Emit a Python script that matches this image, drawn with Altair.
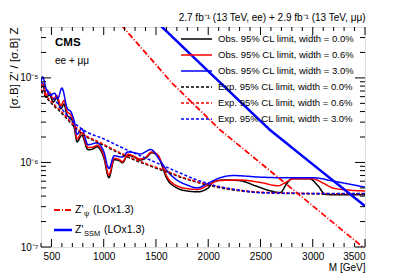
import altair as alt
import pandas as pd

FONT = "Liberation Sans"

# ---------------- data ----------------
series_names = [
    "Obs. 95% CL limit, width = 0.0%",
    "Obs. 95% CL limit, width = 0.6%",
    "Obs. 95% CL limit, width = 3.0%",
    "Exp. 95% CL limit, width = 0.0%",
    "Exp. 95% CL limit, width = 0.6%",
    "Exp. 95% CL limit, width = 3.0%",
]

obs00_m = [400, 420, 450, 480, 520, 550, 590, 620, 650, 690, 720, 745, 790, 850, 900, 935,
           1000, 1050, 1100, 1150, 1180, 1230, 1280, 1350, 1400, 1460, 1520, 1560, 1600, 1700,
           1800, 1900, 2000, 2050, 2150, 2300, 2450, 2600, 2690, 2750, 2800, 2970, 3050, 3120,
           3200, 3500]
obs00_v = [7.6e-6, 8.0e-6, 5.9e-6, 6.3e-6, 5.2e-6, 5.8e-6, 4.3e-6, 4.9e-6, 3.6e-6, 3.3e-6,
           2.5e-6, 1.75e-6, 2.1e-6, 1.41e-6, 1.45e-6, 1.53e-6, 1.15e-6, 6.6e-7, 1.08e-6,
           1.05e-6, 9.9e-7, 1.22e-6, 1.18e-6, 1.07e-6, 1.12e-6, 1.3e-6, 1.18e-6, 9.0e-7,
           6.6e-7, 5.0e-7, 4.6e-7, 4.5e-7, 5.0e-7, 5.9e-7, 6.2e-7, 6.1e-7, 5.3e-7, 4.6e-7,
           4.4e-7, 5.6e-7, 6.4e-7, 6.4e-7, 5.3e-7, 4.2e-7, 4.15e-7, 4.15e-7]

obs06_m = [400, 420, 450, 480, 520, 550, 590, 620, 650, 690, 720, 745, 790, 850, 900, 935,
           1000, 1050, 1100, 1150, 1180, 1230, 1280, 1350, 1400, 1460, 1520, 1560, 1600, 1700,
           1800, 1900, 2000, 2100, 2300, 2500, 2670, 2750, 2815, 3000, 3100, 3190, 3350, 3500]
obs06_v = [8.0e-6, 8.6e-6, 6.3e-6, 6.7e-6, 5.6e-6, 6.2e-6, 4.7e-6, 5.4e-6, 4.0e-6, 3.6e-6,
           2.7e-6, 1.9e-6, 2.25e-6, 1.5e-6, 1.52e-6, 1.6e-6, 1.22e-6, 7.1e-7, 1.12e-6, 1.08e-6,
           1.02e-6, 1.25e-6, 1.2e-6, 1.1e-6, 1.15e-6, 1.33e-6, 1.22e-6, 9.5e-7, 7.0e-7, 5.3e-7,
           4.9e-7, 4.8e-7, 5.4e-7, 6.1e-7, 6.2e-7, 5.8e-7, 5.3e-7, 5.9e-7, 6.4e-7, 6.4e-7,
           5.7e-7, 5.0e-7, 4.7e-7, 4.6e-7]

obs30_m = [400, 415, 450, 490, 530, 560, 600, 650, 690, 720, 745, 790, 850, 935, 1000, 1050,
           1100, 1175, 1232, 1300, 1350, 1450, 1540, 1620, 1700, 1800, 1893, 2000, 2100, 2240,
           2500, 2700, 3000, 3200, 3500]
obs30_v = [9.0e-6, 1.03e-5, 7.4e-6, 6.3e-6, 6.6e-6, 5.7e-6, 7.6e-6, 4.4e-6, 3.9e-6, 3.0e-6,
           2.15e-6, 2.5e-6, 1.62e-6, 1.7e-6, 1.35e-6, 8.5e-7, 1.2e-6, 1.16e-6, 1.33e-6, 1.3e-6,
           1.26e-6, 1.42e-6, 1.05e-6, 7.6e-7, 6.2e-7, 5.4e-7, 5.0e-7, 5.7e-7, 6.5e-7, 7.0e-7,
           6.7e-7, 6.6e-7, 6.6e-7, 6.0e-7, 5.1e-7]

exp00_m = [400, 500, 600, 700, 800, 965, 1200, 1443, 1605, 1750, 1921, 2200, 2500, 3000, 3500]
exp00_v = [7.0e-6, 5.0e-6, 3.8e-6, 2.8e-6, 2.15e-6, 1.68e-6, 1.2e-6, 9.1e-7, 7.7e-7, 6.6e-7,
           5.7e-7, 4.8e-7, 4.4e-7, 4.25e-7, 4.2e-7]

exp06_m = [400, 500, 600, 700, 800, 965, 1200, 1443, 1605, 1750, 1921, 2200, 2500, 3000, 3500]
exp06_v = [7.3e-6, 5.2e-6, 3.95e-6, 2.9e-6, 2.2e-6, 1.72e-6, 1.23e-6, 9.3e-7, 7.9e-7, 6.7e-7,
           5.8e-7, 4.9e-7, 4.45e-7, 4.3e-7, 4.25e-7]

exp30_m = [400, 500, 600, 700, 803, 1000, 1200, 1443, 1700, 1893, 2100, 2300, 2500, 3000, 3500]
exp30_v = [9.0e-6, 6.2e-6, 4.3e-6, 3.1e-6, 2.43e-6, 1.9e-6, 1.45e-6, 1.07e-6, 7.8e-7, 6.2e-7,
           5.2e-7, 4.7e-7, 4.4e-7, 4.3e-7, 4.3e-7]

model_names = ["psi", "SSM"]
model_main = ["Z'", "Z'"]
model_sub = ["ψ", "SSM"]
model_tail = ["(LOx1.3)", "(LOx1.3)"]
psi_m = [1100, 1185, 1653, 2113, 2849, 3500]
psi_v = [5.3e-5, 4.0e-5, 8.7e-6, 2.43e-6, 4.37e-7, 9.5e-8]
ssm_m = [1500, 1558, 2000, 2591, 3000, 3500]
ssm_v = [4.7e-5, 4.0e-5, 1.2e-5, 2.42e-6, 9.5e-7, 3.05e-7]

x_major = [500, 1000, 1500, 2000, 2500, 3000, 3500]
x_minor = [400, 600, 700, 800, 900, 1100, 1200, 1300, 1400, 1600, 1700, 1800, 1900, 2100,
           2200, 2300, 2400, 2600, 2700, 2800, 2900, 3100, 3200, 3300, 3400]
y_major = [1e-7, 1e-6, 1e-5]
y_minor = [2e-7, 3e-7, 4e-7, 5e-7, 6e-7, 7e-7, 8e-7, 9e-7,
           2e-6, 3e-6, 4e-6, 5e-6, 6e-6, 7e-6, 8e-6, 9e-6, 2e-5, 3e-5]

header = "2.7 fb⁻¹ (13 TeV, ee) + 2.9 fb⁻¹ (13 TeV, μμ)"

# ---------------- styles ----------------
lim_colors = ["black", "red", "blue", "black", "red", "blue"]
lim_dashes = [[1, 0], [1, 0], [1, 0], [3, 2], [3, 2], [3, 2]]
th_colors = ["red", "blue"]
th_dashes = [[6, 2, 1, 2], [1, 0]]
th_widths = [1.8, 2.5]

# ---------------- tables ----------------
rows = []
for name, ms, vs in zip(series_names,
                        [obs00_m, obs06_m, obs30_m, exp00_m, exp06_m, exp30_m],
                        [obs00_v, obs06_v, obs30_v, exp00_v, exp06_v, exp30_v]):
    for m, v in zip(ms, vs):
        rows.append({"series": name, "M": m, "value": v})
limits = pd.DataFrame(rows)

trows = []
for name, ms, vs in zip(model_names, [psi_m, ssm_m], [psi_v, ssm_v]):
    for m, v in zip(ms, vs):
        trows.append({"model": name, "M": m, "value": v})
theory = pd.DataFrame(trows)

W, H = 324, 220

xscale = alt.Scale(domain=[400, 3500], nice=False, zero=False)
yscale = alt.Scale(type="log", domain=[1e-7, 4e-5], nice=False)

xaxis = alt.Axis(values=x_major, ticks=False, domain=False, grid=False, format="d",
                 labelFont=FONT, labelFontSize=10, labelColor="black", labelPadding=4,
                 title="M [GeV]", titleAnchor="end", titleFont=FONT, titleFontSize=10,
                 titleFontWeight="normal", titleColor="black", titlePadding=1)
yaxis = alt.Axis(values=y_major, ticks=False, domain=False, grid=False,
                 labelExpr="'10' + (datum.value < 5e-7 ? '⁻⁷' : datum.value < 5e-6 ? '⁻⁶' : '⁻⁵')",
                 labelFont=FONT, labelFontSize=10, labelColor="black", labelPadding=3,
                 title="[σ.B] Z' / [σ.B] Z", titleAnchor="end", titleFont=FONT,
                 titleFontSize=11.5, titleFontWeight="normal", titleColor="black",
                 titleX=-22, titleY=0, titleAlign="right")

X = alt.X("M:Q", scale=xscale, axis=xaxis)
Y = alt.Y("value:Q", scale=yscale, axis=yaxis)

lim_layer = alt.Chart(limits).mark_line(strokeWidth=1.5, clip=True, interpolate="monotone").encode(
    x=X, y=Y,
    color=alt.Color("series:N", scale=alt.Scale(domain=series_names, range=lim_colors),
                    legend=None),
    strokeDash=alt.StrokeDash("series:N", scale=alt.Scale(domain=series_names, range=lim_dashes),
                              legend=None),
)

th_layer = alt.Chart(theory).mark_line(clip=True).encode(
    x=X, y=Y,
    color=alt.Color("model:N", scale=alt.Scale(domain=model_names, range=th_colors), legend=None),
    strokeDash=alt.StrokeDash("model:N", scale=alt.Scale(domain=model_names, range=th_dashes),
                              legend=None),
    strokeWidth=alt.StrokeWidth("model:N", scale=alt.Scale(domain=model_names, range=th_widths),
                                legend=None),
)

# inward ticks
ymaj = pd.DataFrame({"value": y_major})
ymin = pd.DataFrame({"value": y_minor})
xmaj = pd.DataFrame({"M": x_major})
xmin = pd.DataFrame({"M": x_minor})


def yticks(df, L):
    left = alt.Chart(df).mark_rule(color="black", strokeWidth=1).encode(
        y=Y, x=alt.value(0), x2=alt.value(L))
    right = alt.Chart(df).mark_rule(color="black", strokeWidth=1).encode(
        y=Y, x=alt.value(W - L), x2=alt.value(W))
    return [left, right]


def xticks(df, L):
    bottom = alt.Chart(df).mark_rule(color="black", strokeWidth=1).encode(
        x=X, y=alt.value(H - L), y2=alt.value(H))
    top = alt.Chart(df).mark_rule(color="black", strokeWidth=1).encode(
        x=X, y=alt.value(0), y2=alt.value(L))
    return [bottom, top]


tick_layers = yticks(ymaj, 10) + yticks(ymin, 5) + xticks(xmaj, 8) + xticks(xmin, 4)

# ---------------- legends (drawn) ----------------
legend_layers = []
for i, name in enumerate(series_names):
    yy = 12 + 16 * i
    d = pd.DataFrame({"t": [name]})
    legend_layers.append(alt.Chart(d).mark_rule(
        color=lim_colors[i], strokeWidth=1.5, strokeDash=lim_dashes[i]).encode(
        x=alt.value(140), x2=alt.value(171), y=alt.value(yy)))
    legend_layers.append(alt.Chart(d).mark_text(
        align="left", baseline="middle", font=FONT, fontSize=9.5, color="black").encode(
        x=alt.value(177), y=alt.value(yy), text="t:N"))

for i, name in enumerate(model_names):
    yy = 183 + 20 * i
    legend_layers.append(alt.Chart(pd.DataFrame({"t": [name]})).mark_rule(
        color=th_colors[i], strokeWidth=th_widths[i], strokeDash=th_dashes[i]).encode(
        x=alt.value(13), x2=alt.value(31), y=alt.value(yy)))
    legend_layers.append(alt.Chart(pd.DataFrame({"t": [model_main[i]]})).mark_text(
        align="left", baseline="middle", font=FONT, fontSize=10.5, color="black").encode(
        x=alt.value(34), y=alt.value(yy), text="t:N"))
    legend_layers.append(alt.Chart(pd.DataFrame({"t": [model_sub[i]]})).mark_text(
        align="left", baseline="middle", font=FONT, fontSize=7.5, color="black").encode(
        x=alt.value(43), y=alt.value(yy + 4), text="t:N"))
    sub_w = 6 if i == 0 else 17
    legend_layers.append(alt.Chart(pd.DataFrame({"t": [model_tail[i]]})).mark_text(
        align="left", baseline="middle", font=FONT, fontSize=10.5, color="black").encode(
        x=alt.value(43 + sub_w + 3), y=alt.value(yy), text="t:N"))

cms = alt.Chart(pd.DataFrame({"t": ["CMS"]})).mark_text(
    align="left", baseline="middle", font=FONT, fontSize=11.5, fontWeight="bold", color="black"
).encode(x=alt.value(14), y=alt.value(16), text="t:N")
chan = alt.Chart(pd.DataFrame({"t": ["ee + μμ"]})).mark_text(
    align="left", baseline="middle", font=FONT, fontSize=10, color="black"
).encode(x=alt.value(14), y=alt.value(34), text="t:N")

chart = alt.layer(lim_layer, th_layer, *tick_layers, *legend_layers, cms, chan).resolve_scale(
    color="independent", strokeDash="independent"
).properties(
    width=W, height=H,
    title=alt.TitleParams(text=header, anchor="end", font=FONT, fontSize=10,
                          fontWeight="normal", color="black", offset=4),
    autosize=alt.AutoSizeParams(type="none"),
    padding={"left": 33, "top": 19, "right": 34, "bottom": 26},
).configure_view(stroke="black", strokeWidth=1).configure(background="white")

chart.save("out.html", embed_options={"renderer": "svg", "actions": False})
